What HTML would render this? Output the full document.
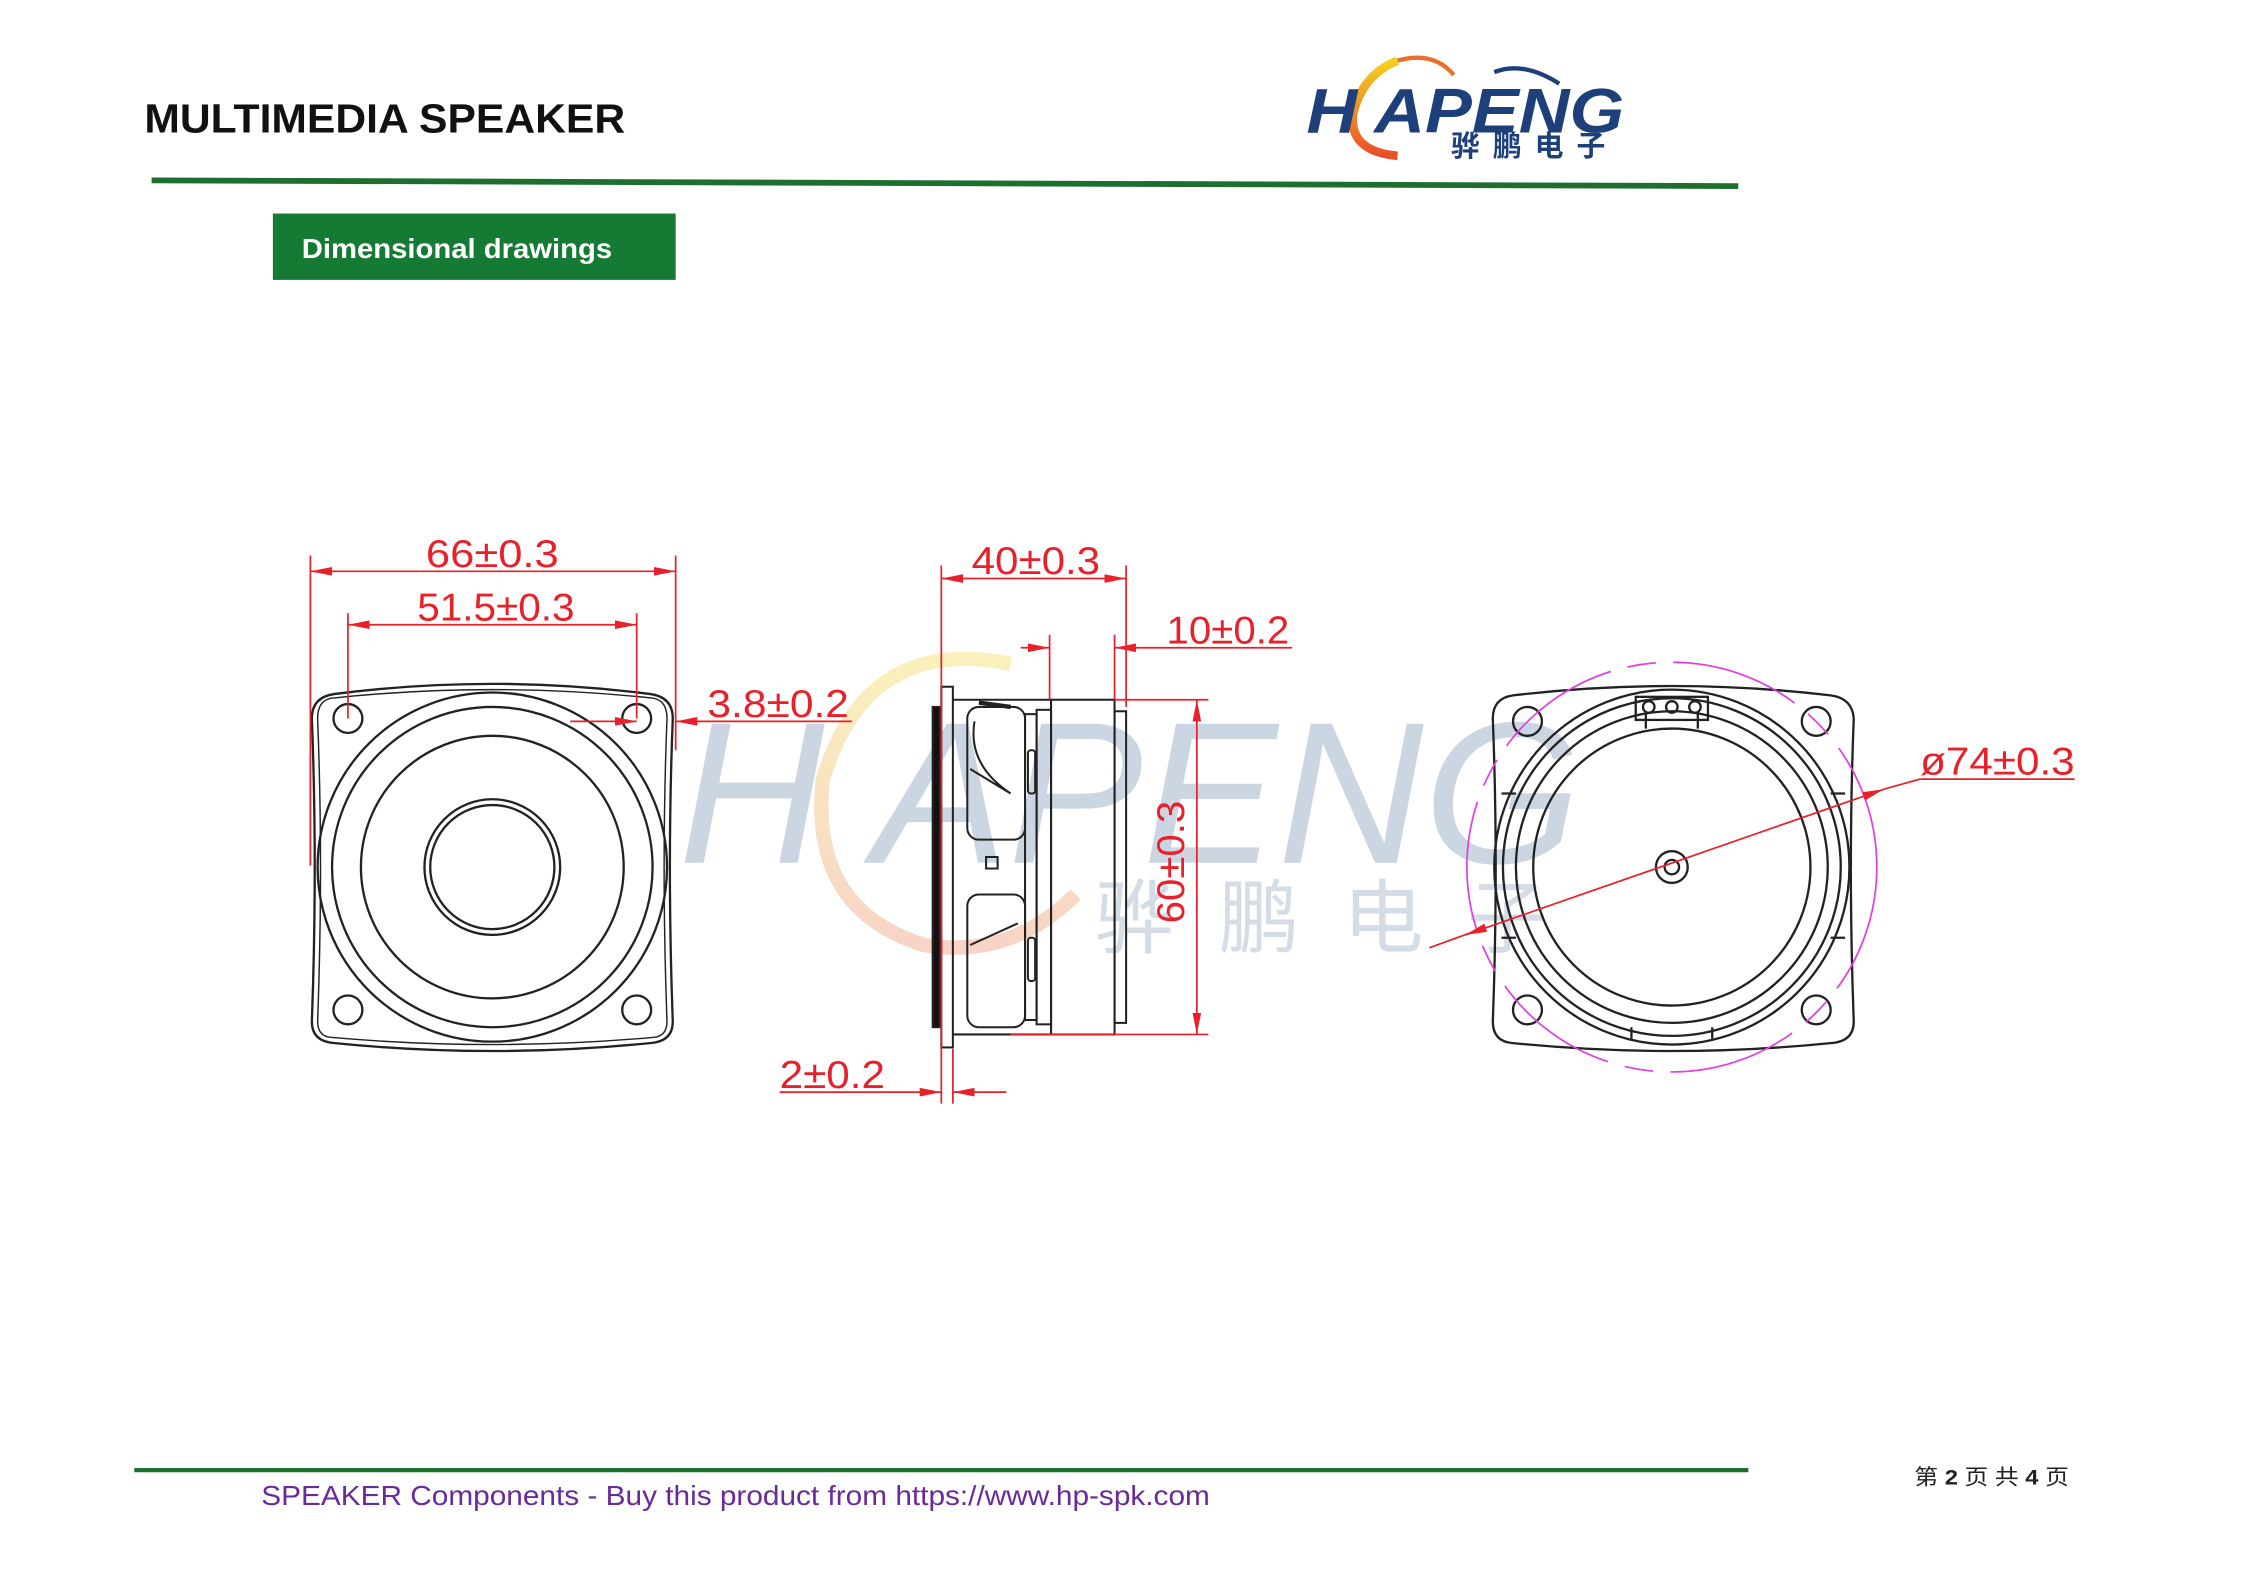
<!DOCTYPE html>
<html><head><meta charset="utf-8">
<style>
html,body{margin:0;padding:0;background:#fff;}
svg{display:block;}
text{font-family:"Liberation Sans","Noto Sans CJK SC",sans-serif;}
</style></head>
<body>
<svg width="2245" height="1587" viewBox="0 0 1555 1100" preserveAspectRatio="none" xmlns="http://www.w3.org/2000/svg">
<defs>
<marker id="ar" viewBox="0 0 15 6" refX="15" refY="3" markerWidth="15" markerHeight="6" orient="auto-start-reverse" markerUnits="userSpaceOnUse">
<path d="M0,0 L15,3 L0,6 z" fill="#e8202a"/></marker>
<linearGradient id="og" x1="0" y1="0" x2="0" y2="1"><stop offset="0" stop-color="#f5d020"/><stop offset="1" stop-color="#e8502a"/></linearGradient>
<linearGradient id="wg" x1="0" y1="0" x2="0" y2="1"><stop offset="0" stop-color="#f8e890"/><stop offset="1" stop-color="#f2b8a0"/></linearGradient>
</defs>

<!-- header -->
<text x="100" y="92" font-size="28" font-weight="bold" fill="#111" textLength="333" lengthAdjust="spacingAndGlyphs">MULTIMEDIA SPEAKER</text>
<line x1="105" y1="125" x2="1204" y2="129" stroke="#1e6e2e" stroke-width="4"/>
<rect x="189" y="148" width="279" height="46" fill="#157a33"/>
<text x="209" y="179" font-size="19.5" font-weight="bold" fill="#fff" textLength="215" lengthAdjust="spacingAndGlyphs">Dimensional drawings</text>

<!-- logo -->
<path d="M968,42 Q943,52 937,80 Q935,105 968,108" fill="none" stroke="url(#og)" stroke-width="6"/>
<path d="M968,42 Q993,35 1007,52" fill="none" stroke="#e8702a" stroke-width="3"/>
<path d="M1035,50 Q1055,42 1080,58" fill="none" stroke="#1d3f7a" stroke-width="3"/>
<text x="905" y="92" font-size="44" font-style="italic" font-weight="bold" fill="#1d3f7a" textLength="220" lengthAdjust="spacingAndGlyphs">H  APENG</text>
<text x="1005" y="108" font-size="20" font-weight="bold" fill="#1d3f7a" letter-spacing="9">骅鹏电子</text>

<!-- watermark -->
<g opacity="0.6">
<path d="M700,460 Q600,440 570,540 Q560,630 640,655 Q700,665 745,620" fill="none" stroke="url(#wg)" stroke-width="10"/>
<text x="470" y="598" font-size="140" font-style="italic" fill="#a9bbd0" textLength="625" lengthAdjust="spacingAndGlyphs">H  APENG</text>
<text x="758" y="656" font-size="56" fill="#b8c6d6" letter-spacing="30">骅鹏电子</text>
</g>

<!-- FRONT VIEW -->
<g fill="none" stroke="#222" stroke-width="1.6">
<path d="M232,481 Q341,467 450,481 Q466,483 466,498 Q462,600 466,708 Q466,722 450,723 Q341,734 232,723 Q216,722 216,708 Q220,600 216,498 Q216,483 232,481 Z"/>
<path d="M229,484 Q341,472 453,484 Q462,486 462,498 Q458,600 462,708 Q462,718 453,719 Q341,729 229,719 Q220,718 220,708 Q224,600 220,498 Q220,486 229,484 Z" stroke-width="1"/>
<circle cx="241" cy="498" r="10"/><circle cx="441" cy="498" r="10"/>
<circle cx="241" cy="700" r="10"/><circle cx="441" cy="700" r="10"/>
<circle cx="341" cy="601" r="121"/><circle cx="341" cy="601" r="111"/>
<circle cx="341" cy="601" r="91"/>
<circle cx="341" cy="601" r="47"/><circle cx="341" cy="601" r="43"/>
</g>
<g stroke="#e8202a" stroke-width="1.2" fill="none">
<line x1="215" y1="385" x2="215" y2="600"/><line x1="468" y1="385" x2="468" y2="520"/>
<line x1="215" y1="396" x2="468" y2="396" marker-start="url(#ar)" marker-end="url(#ar)"/>
<line x1="241" y1="425" x2="241" y2="498"/><line x1="441" y1="425" x2="441" y2="498"/>
<line x1="241" y1="433" x2="441" y2="433" marker-start="url(#ar)" marker-end="url(#ar)"/>
<line x1="395" y1="500" x2="441" y2="500" marker-end="url(#ar)"/>
<line x1="590" y1="500" x2="468" y2="500" marker-end="url(#ar)"/>
</g>
<g fill="#e8202a" font-size="27" lengthAdjust="spacingAndGlyphs">
<text x="295" y="393" textLength="92" lengthAdjust="spacingAndGlyphs">66±0.3</text>
<text x="289" y="430" textLength="109" lengthAdjust="spacingAndGlyphs">51.5±0.3</text>
<text x="490" y="497" textLength="98" lengthAdjust="spacingAndGlyphs">3.8±0.2</text>
</g>

<!-- SIDE VIEW -->
<g fill="none" stroke="#222" stroke-width="1.4">
<rect x="652" y="476" width="8" height="250"/>
<rect x="646" y="490" width="5" height="222" fill="#111"/>
<path d="M660,485 L728,485 L728,717 L660,717"/>
<rect x="670" y="490" width="40" height="92" rx="8"/>
<rect x="670" y="620" width="40" height="92" rx="8"/>
<path d="M675,500 Q670,530 700,550 M672,533 L700,550 M672,655 L705,640"/>
<rect x="683" y="594" width="8" height="8"/>
<rect x="710" y="495" width="8" height="212"/>
<rect x="712" y="520" width="5" height="30" rx="2"/><rect x="712" y="650" width="5" height="30" rx="2"/>
<rect x="718" y="492" width="10" height="218"/>
<rect x="728" y="485" width="44" height="232"/>
<rect x="772" y="493" width="8" height="216"/>
<line x1="678" y1="487" x2="700" y2="490" stroke-width="3"/>
</g>
<g stroke="#e8202a" stroke-width="1.2" fill="none">
<line x1="652" y1="392" x2="652" y2="765"/><line x1="780" y1="392" x2="780" y2="490"/>
<line x1="652" y1="401" x2="780" y2="401" marker-start="url(#ar)" marker-end="url(#ar)"/>
<line x1="727" y1="440" x2="727" y2="485"/><line x1="772" y1="440" x2="772" y2="485"/>
<line x1="707" y1="449" x2="727" y2="449" marker-end="url(#ar)"/>
<line x1="895" y1="449" x2="772" y2="449" marker-end="url(#ar)"/>
<line x1="772" y1="485" x2="837" y2="485"/><line x1="700" y1="717" x2="837" y2="717"/>
<line x1="829" y1="485" x2="829" y2="717" marker-start="url(#ar)" marker-end="url(#ar)"/>
<line x1="660" y1="727" x2="660" y2="765"/>
<line x1="540" y1="757" x2="652" y2="757" marker-end="url(#ar)"/>
<line x1="697" y1="757" x2="660" y2="757" marker-end="url(#ar)"/>
</g>
<g fill="#e8202a" font-size="27">
<text x="673" y="398" textLength="89" lengthAdjust="spacingAndGlyphs">40±0.3</text>
<text x="808" y="446" textLength="85" lengthAdjust="spacingAndGlyphs">10±0.2</text>
<text x="540" y="754" textLength="73" lengthAdjust="spacingAndGlyphs">2±0.2</text>
<text transform="translate(820,640) rotate(-90)" textLength="85" lengthAdjust="spacingAndGlyphs">60±0.3</text>
</g>

<!-- REAR VIEW -->
<g fill="none" stroke="#222" stroke-width="1.6">
<path d="M1048,482 Q1158,469 1268,482 Q1283,484 1284,498 Q1280,600 1284,708 Q1284,722 1268,723 Q1158,734 1048,723 Q1034,722 1034,708 Q1038,600 1034,498 Q1034,484 1048,482 Z"/>
<circle cx="1058" cy="500" r="10"/><circle cx="1258" cy="500" r="10"/>
<circle cx="1058" cy="700" r="10"/><circle cx="1258" cy="700" r="10"/>
<circle cx="1158" cy="601" r="123"/><circle cx="1158" cy="601" r="117"/>
<circle cx="1158" cy="601" r="108"/><circle cx="1158" cy="601" r="96"/>
<circle cx="1158" cy="601" r="11"/><circle cx="1158" cy="601" r="5"/>
<rect x="1133" y="483" width="50" height="16"/>
<circle cx="1142" cy="490" r="4"/><circle cx="1158" cy="490" r="4"/><circle cx="1174" cy="490" r="4"/>
<path d="M1140,494 L1140,505 M1176,494 L1176,505"/>
<path d="M1040,550 L1050,550 M1040,650 L1050,650 M1268,550 L1278,550 M1268,650 L1278,650 M1130,712 L1130,720 M1186,712 L1186,720"/>
</g>
<circle cx="1158" cy="601" r="142" fill="none" stroke="#e040e0" stroke-width="1.2" stroke-dasharray="90,12,20,12"/>
<line x1="990" y1="657" x2="1020" y2="646" stroke="#e8202a" stroke-width="1.2"/>
<line x1="1015" y1="648" x2="1305" y2="547" stroke="#e8202a" stroke-width="1.2" marker-start="url(#ar)" marker-end="url(#ar)"/>
<line x1="1305" y1="547" x2="1330" y2="540" stroke="#e8202a" stroke-width="1.2"/>
<line x1="1330" y1="540" x2="1437" y2="540" stroke="#e8202a" stroke-width="1.2"/>
<text x="1330" y="537" font-size="27" fill="#e8202a" textLength="107" lengthAdjust="spacingAndGlyphs">ø74±0.3</text>

<!-- footer -->
<line x1="93" y1="1019" x2="1211" y2="1019" stroke="#1e6e2e" stroke-width="3"/>
<text x="181" y="1043" font-size="19" fill="#6a2a9a" textLength="657" lengthAdjust="spacingAndGlyphs">SPEAKER Components - Buy this product from https://www.hp-spk.com</text>
<text x="1326" y="1029" font-size="15" fill="#222" textLength="107" lengthAdjust="spacingAndGlyphs">第 <tspan font-weight="bold">2</tspan> 页 共 <tspan font-weight="bold">4</tspan> 页</text>
</svg>
</body></html>
